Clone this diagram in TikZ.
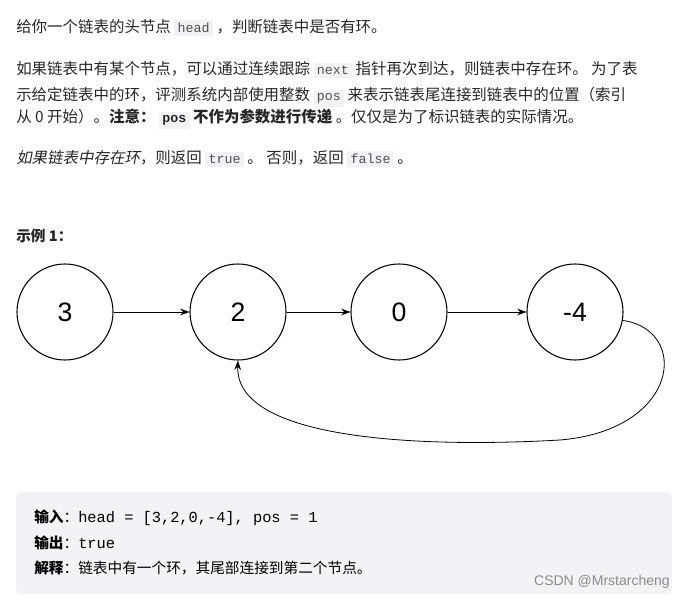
\documentclass[tikz,border=0pt]{standalone}
\usepackage{fontspec}
\setmainfont{Noto Sans CJK SC}
\setmonofont{Liberation Mono}
\newfontfamily\numf{Liberation Sans}
\newfontfamily\slcjk[FakeSlant=0.2]{Noto Sans CJK SC}
\usetikzlibrary{arrows.meta}
\definecolor{codebg}{HTML}{F2F2F4}
\definecolor{boxbg}{HTML}{F3F3F5}
\definecolor{txt}{HTML}{262626}
\newcommand\cd[1]{{\setlength\fboxsep{2.5pt}\colorbox{codebg}{\ttfamily\fontsize{10pt}{12pt}\selectfont\color{txt!80}#1}}}
\begin{document}
\begin{tikzpicture}[x=0.75pt,y=-0.75pt,
  txtl/.style={anchor=base west,inner sep=0,font=\fontsize{11.6pt}{14pt}\selectfont,text=txt},
  boxl/.style={anchor=base west,inner sep=0,font=\fontsize{11pt}{13pt}\selectfont,text=black},
  ln/.style={circle,draw=black,line width=0.8pt,minimum size=96*0.75pt,inner sep=0,font=\numf\fontsize{20pt}{24pt}\selectfont},
  arr/.style={-{Stealth[length=7pt,width=5pt]},line width=0.6pt}]
\useasboundingbox (0,0) rectangle (685,598);
\node[txtl] (l1) at (16,33) {给你一个链表的头节点 \cd{head} ，判断链表中是否有环。};
\node[txtl] (l2) at (16,75) {如果链表中有某个节点，可以通过连续跟踪 \cd{next} 指针再次到达，则链表中存在环。 为了表};
\node[txtl] (l3) at (16,101) {示给定链表中的环，评测系统内部使用整数 \cd{pos} 来表示链表尾连接到链表中的位置（索引};
\node[txtl] (l4) at (16,123) {从 0 开始）。\textbf{注意：} {\setlength\fboxsep{2.5pt}\colorbox{codebg}{\ttfamily\bfseries\fontsize{10pt}{12pt}\selectfont pos}} \textbf{不作为参数进行传递} 。仅仅是为了标识链表的实际情况。};
\node[txtl] (l5) at (16,164) {{\slcjk 如果链表中存在环}，则返回 \cd{true} 。 否则，返回 \cd{false} 。};
\node[txtl,font=\bfseries\fontsize{11pt}{13pt}\selectfont] (ex) at (16,242) {示例 1：};
\node[ln] (a) at (65,312) {3};
\node[ln] (b) at (238,312) {2};
\node[ln] (c) at (399,312) {0};
\node[ln] (d) at (575,312) {-4};
\draw[arr] (a) -- (b);
\draw[arr] (b) -- (c);
\draw[arr] (c) -- (d);
\draw[arr] (d.-10) .. controls (690,330) and (680,430) .. (560,440)
  .. controls (420,448) and (235,440) .. (b.south);
\fill[boxbg,rounded corners=3pt] (16,492) rectangle (672,594);
\node[boxl] (o1) at (34,522) {\textbf{输入}：\ttfamily\fontsize{11.5pt}{13pt}\selectfont head = [3,2,0,-4], pos = 1};
\node[boxl] (o2) at (34,548) {\textbf{输出}：\ttfamily\fontsize{11.5pt}{13pt}\selectfont true};
\node[boxl] (o3) at (34,573) {\textbf{解释}：链表中有一个环，其尾部连接到第二个节点。};
\node[anchor=base east,inner sep=0,font=\numf\fontsize{10.5pt}{12pt}\selectfont,text=black!45] (wm) at (670,585) {CSDN @Mrstarcheng};
\end{tikzpicture}
\end{document}
